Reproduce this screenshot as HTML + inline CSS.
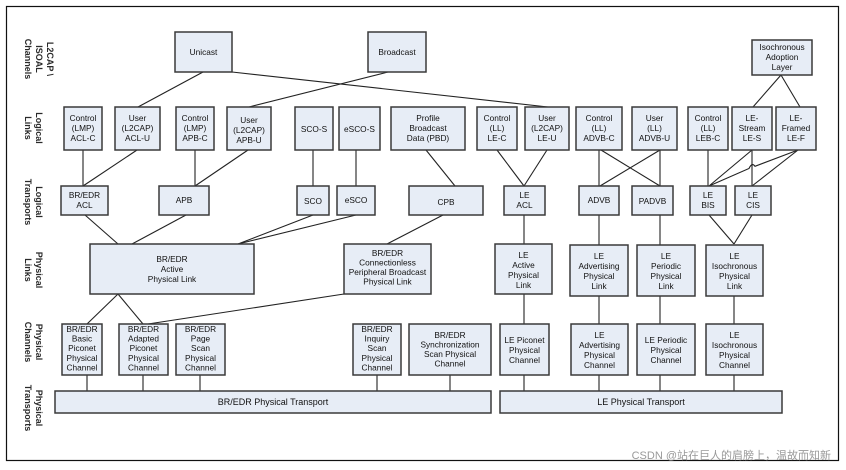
<!DOCTYPE html>
<html><head><meta charset="utf-8"><style>
html,body{margin:0;padding:0;background:#fff;}
svg{display:block;}
.b{fill:#e7edf6;stroke:#3a3a3a;stroke-width:1.5;}
text{font-family:"Liberation Sans",Arial,sans-serif;font-size:8.3px;fill:#111;text-anchor:middle;}
.s{font-size:9px;font-weight:bold;fill:#2a2a2a;}
line,path.l{stroke:#222;stroke-width:1.1;fill:none;}
</style></head><body>
<svg width="846" height="470" viewBox="0 0 846 470" xmlns="http://www.w3.org/2000/svg">
<rect x="6.5" y="6.5" width="832" height="454" fill="none" stroke="#111" stroke-width="1.2"/>

<g class="s">
<text class="s" transform="translate(47,59) rotate(90)"><tspan x="0" dy="0">L2CAP \</tspan><tspan x="0" dy="11">ISOAL</tspan><tspan x="0" dy="11">Channels</tspan></text>
<text class="s" transform="translate(36,128) rotate(90)"><tspan x="0">Logical</tspan><tspan x="0" dy="11">Links</tspan></text>
<text class="s" transform="translate(36,202) rotate(90)"><tspan x="0">Logical</tspan><tspan x="0" dy="11">Transports</tspan></text>
<text class="s" transform="translate(36,270) rotate(90)"><tspan x="0">Physical</tspan><tspan x="0" dy="11">Links</tspan></text>
<text class="s" transform="translate(36,342) rotate(90)"><tspan x="0">Physical</tspan><tspan x="0" dy="11">Channels</tspan></text>
<text class="s" transform="translate(36,408) rotate(90)"><tspan x="0">Physical</tspan><tspan x="0" dy="11">Transports</tspan></text>
</g>

<line x1="203" y1="72" x2="138" y2="107"/>
<line x1="232" y1="72" x2="548" y2="107"/>
<line x1="388" y1="72" x2="249" y2="107"/>
<line x1="83" y1="150" x2="83" y2="186"/>
<line x1="137" y1="150" x2="83" y2="186"/>
<line x1="195" y1="150" x2="195" y2="186"/>
<line x1="248" y1="150" x2="195" y2="186"/>
<line x1="313" y1="150" x2="313" y2="186"/>
<line x1="356" y1="150" x2="356" y2="186"/>
<line x1="426" y1="150" x2="455" y2="186"/>
<line x1="497" y1="150" x2="524" y2="186"/>
<line x1="547" y1="150" x2="524" y2="186"/>
<line x1="599" y1="150" x2="599" y2="186"/>
<line x1="601" y1="150" x2="660" y2="186"/>
<line x1="660" y1="150" x2="660" y2="186"/>
<line x1="660" y1="150" x2="600" y2="186"/>
<line x1="708" y1="150" x2="708" y2="186"/>
<line x1="752" y1="150" x2="752" y2="186"/>
<line x1="752" y1="150" x2="709" y2="186"/>
<path class="l" d="M709,186 L749,168.5 Q752,162 755,166.3 L798,150"/>
<line x1="798" y1="150" x2="752" y2="186"/>
<line x1="781" y1="75" x2="753" y2="107"/>
<line x1="781" y1="75" x2="800" y2="107"/>

<line x1="85" y1="215" x2="118" y2="244"/>
<line x1="186" y1="215" x2="132" y2="244"/>
<line x1="313" y1="215" x2="238" y2="244"/>
<line x1="356" y1="215" x2="238" y2="244"/>
<line x1="443" y1="215" x2="387" y2="244"/>
<line x1="524" y1="215" x2="524" y2="244"/>
<line x1="599" y1="215" x2="599" y2="245"/>
<line x1="660" y1="215" x2="660" y2="245"/>
<line x1="709" y1="215" x2="734" y2="244"/>
<line x1="752" y1="215" x2="734" y2="244"/>

<line x1="118" y1="294" x2="87" y2="324"/>
<line x1="118" y1="294" x2="143" y2="324"/>
<line x1="344" y1="294" x2="148" y2="324"/>
<line x1="524" y1="294" x2="524" y2="324"/>
<line x1="599" y1="296" x2="599" y2="324"/>
<line x1="660" y1="296" x2="660" y2="324"/>
<line x1="734" y1="296" x2="734" y2="324"/>

<g>
<line x1="87" y1="375" x2="87" y2="391"/><line x1="143" y1="375" x2="143" y2="391"/>
<line x1="200" y1="375" x2="200" y2="391"/><line x1="377" y1="375" x2="377" y2="391"/>
<line x1="450" y1="375" x2="450" y2="391"/><line x1="524" y1="375" x2="524" y2="391"/>
<line x1="599" y1="375" x2="599" y2="391"/><line x1="660" y1="375" x2="660" y2="391"/>
<line x1="734" y1="375" x2="734" y2="391"/>
</g>

<rect class="b" x="175" y="32" width="57" height="40"/><text x="203.5" y="55">Unicast</text>
<rect class="b" x="368" y="32" width="58" height="40"/><text x="397" y="55">Broadcast</text>
<rect class="b" x="752" y="40" width="60" height="35"/><text x="782" y="50"><tspan x="782">Isochronous</tspan><tspan x="782" dy="10">Adoption</tspan><tspan x="782" dy="10">Layer</tspan></text>

<g>
<rect class="b" x="64" y="107" width="38" height="43"/><text y="121"><tspan x="83">Control</tspan><tspan x="83" dy="10">(LMP)</tspan><tspan x="83" dy="10">ACL-C</tspan></text>
<rect class="b" x="115" y="107" width="45" height="43"/><text y="121"><tspan x="137.5">User</tspan><tspan x="137.5" dy="10">(L2CAP)</tspan><tspan x="137.5" dy="10">ACL-U</tspan></text>
<rect class="b" x="176" y="107" width="38" height="43"/><text y="121"><tspan x="195">Control</tspan><tspan x="195" dy="10">(LMP)</tspan><tspan x="195" dy="10">APB-C</tspan></text>
<rect class="b" x="227" y="107" width="44" height="43"/><text y="123"><tspan x="249">User</tspan><tspan x="249" dy="10">(L2CAP)</tspan><tspan x="249" dy="10">APB-U</tspan></text>
<rect class="b" x="295" y="107" width="38" height="43"/><text x="314" y="132">SCO-S</text>
<rect class="b" x="339" y="107" width="41" height="43"/><text x="359.5" y="132">eSCO-S</text>
<rect class="b" x="391" y="107" width="74" height="43"/><text y="121"><tspan x="428">Profile</tspan><tspan x="428" dy="10">Broadcast</tspan><tspan x="428" dy="10">Data (PBD)</tspan></text>
<rect class="b" x="477" y="107" width="40" height="43"/><text y="121"><tspan x="497">Control</tspan><tspan x="497" dy="10">(LL)</tspan><tspan x="497" dy="10">LE-C</tspan></text>
<rect class="b" x="525" y="107" width="44" height="43"/><text y="121"><tspan x="547">User</tspan><tspan x="547" dy="10">(L2CAP)</tspan><tspan x="547" dy="10">LE-U</tspan></text>
<rect class="b" x="576" y="107" width="46" height="43"/><text y="121"><tspan x="599">Control</tspan><tspan x="599" dy="10">(LL)</tspan><tspan x="599" dy="10">ADVB-C</tspan></text>
<rect class="b" x="632" y="107" width="45" height="43"/><text y="121"><tspan x="654.5">User</tspan><tspan x="654.5" dy="10">(LL)</tspan><tspan x="654.5" dy="10">ADVB-U</tspan></text>
<rect class="b" x="688" y="107" width="40" height="43"/><text y="121"><tspan x="708">Control</tspan><tspan x="708" dy="10">(LL)</tspan><tspan x="708" dy="10">LEB-C</tspan></text>
<rect class="b" x="732" y="107" width="40" height="43"/><text y="121"><tspan x="752">LE-</tspan><tspan x="752" dy="10">Stream</tspan><tspan x="752" dy="10">LE-S</tspan></text>
<rect class="b" x="776" y="107" width="40" height="43"/><text y="121"><tspan x="796">LE-</tspan><tspan x="796" dy="10">Framed</tspan><tspan x="796" dy="10">LE-F</tspan></text>
</g>

<rect class="b" x="61" y="186" width="47" height="29"/><text y="198"><tspan x="84.5">BR/EDR</tspan><tspan x="84.5" dy="10">ACL</tspan></text>
<rect class="b" x="159" y="186" width="50" height="29"/><text x="184" y="203">APB</text>
<rect class="b" x="297" y="186" width="32" height="29"/><text x="313" y="204">SCO</text>
<rect class="b" x="337" y="186" width="38" height="29"/><text x="356" y="203">eSCO</text>
<rect class="b" x="409" y="186" width="74" height="29"/><text x="446" y="205">CPB</text>
<rect class="b" x="504" y="186" width="41" height="29"/><text y="198"><tspan x="524.5">LE</tspan><tspan x="524.5" dy="10">ACL</tspan></text>
<rect class="b" x="579" y="186" width="40" height="29"/><text x="599" y="203">ADVB</text>
<rect class="b" x="632" y="186" width="41" height="29"/><text x="652.5" y="204">PADVB</text>
<rect class="b" x="690" y="186" width="36" height="29"/><text y="198"><tspan x="708">LE</tspan><tspan x="708" dy="10">BIS</tspan></text>
<rect class="b" x="735" y="186" width="36" height="29"/><text y="198"><tspan x="753">LE</tspan><tspan x="753" dy="10">CIS</tspan></text>

<rect class="b" x="90" y="244" width="164" height="50"/><text y="262"><tspan x="172">BR/EDR</tspan><tspan x="172" dy="10">Active</tspan><tspan x="172" dy="10">Physical Link</tspan></text>
<rect class="b" x="344" y="244" width="87" height="50"/><text y="256"><tspan x="387.5">BR/EDR</tspan><tspan x="387.5" dy="9.5">Connectionless</tspan><tspan x="387.5" dy="9.5">Peripheral Broadcast</tspan><tspan x="387.5" dy="9.5">Physical Link</tspan></text>
<rect class="b" x="495" y="244" width="57" height="50"/><text y="258"><tspan x="523.5">LE</tspan><tspan x="523.5" dy="10">Active</tspan><tspan x="523.5" dy="10">Physical</tspan><tspan x="523.5" dy="10">Link</tspan></text>
<rect class="b" x="570" y="245" width="58" height="51"/><text y="259"><tspan x="599">LE</tspan><tspan x="599" dy="10">Advertising</tspan><tspan x="599" dy="10">Physical</tspan><tspan x="599" dy="10">Link</tspan></text>
<rect class="b" x="637" y="245" width="58" height="51"/><text y="259"><tspan x="666">LE</tspan><tspan x="666" dy="10">Periodic</tspan><tspan x="666" dy="10">Physical</tspan><tspan x="666" dy="10">Link</tspan></text>
<rect class="b" x="706" y="245" width="57" height="51"/><text y="259"><tspan x="734.5">LE</tspan><tspan x="734.5" dy="10">Isochronous</tspan><tspan x="734.5" dy="10">Physical</tspan><tspan x="734.5" dy="10">Link</tspan></text>

<rect class="b" x="62" y="324" width="40" height="51"/><text y="332"><tspan x="82">BR/EDR</tspan><tspan x="82" dy="9.6">Basic</tspan><tspan x="82" dy="9.6">Piconet</tspan><tspan x="82" dy="9.6">Physical</tspan><tspan x="82" dy="9.6">Channel</tspan></text>
<rect class="b" x="119" y="324" width="49" height="51"/><text y="332"><tspan x="143.5">BR/EDR</tspan><tspan x="143.5" dy="9.6">Adapted</tspan><tspan x="143.5" dy="9.6">Piconet</tspan><tspan x="143.5" dy="9.6">Physical</tspan><tspan x="143.5" dy="9.6">Channel</tspan></text>
<rect class="b" x="176" y="324" width="49" height="51"/><text y="332"><tspan x="200.5">BR/EDR</tspan><tspan x="200.5" dy="9.6">Page</tspan><tspan x="200.5" dy="9.6">Scan</tspan><tspan x="200.5" dy="9.6">Physical</tspan><tspan x="200.5" dy="9.6">Channel</tspan></text>
<rect class="b" x="353" y="324" width="48" height="51"/><text y="332"><tspan x="377">BR/EDR</tspan><tspan x="377" dy="9.6">Inquiry</tspan><tspan x="377" dy="9.6">Scan</tspan><tspan x="377" dy="9.6">Physical</tspan><tspan x="377" dy="9.6">Channel</tspan></text>
<rect class="b" x="409" y="324" width="82" height="51"/><text y="338"><tspan x="450">BR/EDR</tspan><tspan x="450" dy="9.5">Synchronization</tspan><tspan x="450" dy="9.5">Scan Physical</tspan><tspan x="450" dy="9.5">Channel</tspan></text>
<rect class="b" x="500" y="324" width="49" height="51"/><text y="343"><tspan x="524.5">LE Piconet</tspan><tspan x="524.5" dy="10">Physical</tspan><tspan x="524.5" dy="10">Channel</tspan></text>
<rect class="b" x="571" y="324" width="57" height="51"/><text y="338"><tspan x="599.5">LE</tspan><tspan x="599.5" dy="10">Advertising</tspan><tspan x="599.5" dy="10">Physical</tspan><tspan x="599.5" dy="10">Channel</tspan></text>
<rect class="b" x="637" y="324" width="58" height="51"/><text y="343"><tspan x="666">LE Periodic</tspan><tspan x="666" dy="10">Physical</tspan><tspan x="666" dy="10">Channel</tspan></text>
<rect class="b" x="706" y="324" width="57" height="51"/><text y="338"><tspan x="734.5">LE</tspan><tspan x="734.5" dy="10">Isochronous</tspan><tspan x="734.5" dy="10">Physical</tspan><tspan x="734.5" dy="10">Channel</tspan></text>

<rect class="b" x="55" y="391" width="436" height="22"/><text x="273" y="405" style="font-size:9px">BR/EDR Physical Transport</text>
<rect class="b" x="500" y="391" width="282" height="22"/><text x="641" y="405" style="font-size:9px">LE Physical Transport</text>

<text x="831" y="459" style="font-size:11px;fill:#999;text-anchor:end;font-family:'Liberation Sans','Noto Sans CJK SC',sans-serif">CSDN @站在巨人的肩膀上，温故而知新</text>
</svg>
</body></html>
